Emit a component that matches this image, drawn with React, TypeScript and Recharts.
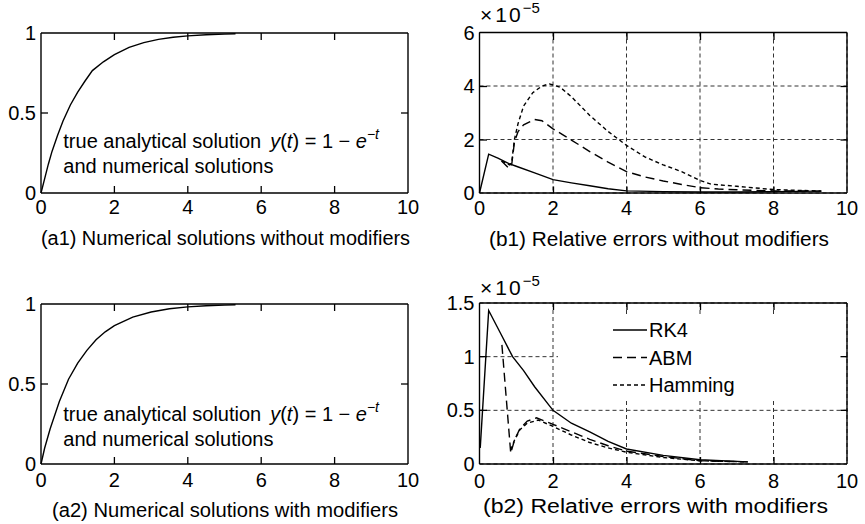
import React from 'react';
import { LineChart, Line, XAxis, YAxis, CartesianGrid, Legend, Label, ReferenceLine } from 'recharts';

const FONT = '"Liberation Sans", Arial, Helvetica, sans-serif';

// shared x ticks (t)
const timeTicks = [0, 2, 4, 6, 8, 10];

// (a1) numerical solution without modifiers
const a1T = [0, 0.1, 0.2, 0.3, 0.45, 0.6, 0.8, 1.0, 1.2, 1.4, 1.7, 2.0, 2.4, 2.8, 3.2, 3.6, 4.0, 4.5, 5.0, 5.3];
const a1Y = [0, 0.09, 0.18, 0.26, 0.36, 0.45, 0.55, 0.63, 0.7, 0.765, 0.82, 0.865, 0.91, 0.94, 0.96, 0.973, 0.982, 0.989, 0.993, 0.995];

// (a2) numerical solution with modifiers
const a2T = [0, 0.1, 0.25, 0.5, 0.75, 1.0, 1.25, 1.5, 1.75, 2.0, 2.5, 3.0, 3.5, 4.0, 4.5, 5.0, 5.3];
const a2Y = [0, 0.1, 0.22, 0.39, 0.53, 0.63, 0.71, 0.777, 0.826, 0.865, 0.918, 0.95, 0.97, 0.982, 0.989, 0.993, 0.995];

const aTicks = [0, 0.5, 1];

// (b1) relative errors without modifiers (x 1e-5)
const b1Ticks = [0, 2, 4, 6];
const rk4T1 = [0, 0.25, 0.5, 0.8, 1.0, 1.5, 2.0, 2.5, 3.0, 3.5, 4.0, 5.0, 6.0, 7.0, 8.0, 9.3];
const rk4Y1 = [0, 1.45, 1.3, 1.1, 1.0, 0.75, 0.5, 0.38, 0.27, 0.16, 0.08, 0.05, 0.04, 0.04, 0.05, 0.07];
const abmT1 = [0.6, 0.8, 0.88, 0.95, 1.05, 1.2, 1.5, 1.7, 2.0, 2.5, 3.0, 3.5, 4.0, 4.5, 5.0, 5.5, 6.0, 6.5, 7.0, 8.0, 9.3];
const abmY1 = [1.2, 0.92, 1.1, 1.9, 2.3, 2.55, 2.75, 2.7, 2.4, 1.98, 1.55, 1.15, 0.8, 0.6, 0.45, 0.32, 0.2, 0.15, 0.12, 0.08, 0.07];
const hamT1 = [0.6, 0.82, 0.88, 0.95, 1.05, 1.2, 1.45, 1.7, 1.9, 2.2, 2.5, 3.0, 3.5, 4.0, 4.5, 5.0, 5.5, 6.0, 6.3, 7.0, 8.0, 9.3];
const hamY1 = [1.2, 1.05, 1.2, 2.0, 2.6, 3.25, 3.75, 4.0, 4.08, 3.95, 3.6, 2.9, 2.3, 1.78, 1.35, 1.05, 0.8, 0.47, 0.33, 0.25, 0.13, 0.07];

// (b2) relative errors with modifiers (x 1e-5)
const b2Ticks = [0, 0.5, 1, 1.5];
const rk4T2 = [0.02, 0.25, 0.6, 0.9, 1.2, 1.5, 2.0, 2.5, 3.0, 3.5, 4.0, 5.0, 6.0, 7.3];
const rk4Y2 = [0.15, 1.43, 1.2, 1.0, 0.87, 0.72, 0.5, 0.38, 0.3, 0.21, 0.14, 0.08, 0.04, 0.02];
const abmT2 = [0.61, 0.85, 0.95, 1.1, 1.3, 1.55, 2.0, 2.5, 3.0, 3.5, 4.0, 5.0, 6.0, 7.3];
const abmY2 = [1.11, 0.1, 0.22, 0.33, 0.4, 0.43, 0.37, 0.3, 0.23, 0.17, 0.12, 0.07, 0.03, 0.02];
const hamT2 = [0.85, 0.95, 1.1, 1.3, 1.6, 2.0, 2.5, 3.0, 3.5, 4.0, 5.0, 6.0, 7.3];
const hamY2 = [0.13, 0.22, 0.32, 0.38, 0.41, 0.35, 0.27, 0.2, 0.15, 0.11, 0.06, 0.03, 0.02];

const methodNames = ['RK4', 'ABM', 'Hamming'];
const methodDash: Record<string, string | undefined> = { RK4: undefined, ABM: '9 5', Hamming: '4 3' };

const rows = (t: number[], y: number[]) => t.map((v, i) => ({ t: v, y: y[i] }));

type Series = { name: string; data: { t: number; y: number }[]; dash?: string };

const INK = '#000';
const LW = 1.4;
const TICK_LEN = 7;

function makeBottomTick(dy: number) {
  return (props: any) => {
    const { x, y, payload } = props;
    return (
      <text x={x} y={y + dy} textAnchor="middle" dominantBaseline="central" fontSize={20} fontFamily={FONT} fill={INK}>
        {payload.value}
      </text>
    );
  };
}
const LeftTick = (props: any) => {
  const { x, y, payload } = props;
  return (
    <text x={x - 5} y={y} textAnchor="end" dominantBaseline="central" fontSize={20} fontFamily={FONT} fill={INK}>
      {payload.value}
    </text>
  );
};

// Inward tick marks of the box (matlab style), laid over the plot rectangle.
function TickMarks({ left, top, width, height, xTicks, yTicks }: { left: number; top: number; width: number; height: number; xTicks: number[]; yTicks: number[] }) {
  const xMax = xTicks[xTicks.length - 1];
  const yMax = yTicks[yTicks.length - 1];
  const xs = xTicks.slice(1, -1).map((v) => (v / xMax) * width);
  const ys = yTicks.slice(1, -1).map((v) => height - (v / yMax) * height);
  return (
    <svg
      width={width}
      height={height}
      style={{ position: 'absolute', left, top, overflow: 'visible', pointerEvents: 'none' }}
    >
      {xs.map((x, i) => (
        <g key={`x${i}`}>
          <line x1={x} x2={x} y1={height} y2={height - TICK_LEN} stroke={INK} strokeWidth={1.3} />
          <line x1={x} x2={x} y1={0} y2={TICK_LEN} stroke={INK} strokeWidth={1.3} />
        </g>
      ))}
      {ys.map((y, i) => (
        <g key={`y${i}`}>
          <line x1={0} x2={TICK_LEN} y1={y} y2={y} stroke={INK} strokeWidth={1.3} />
          <line x1={width} x2={width - TICK_LEN} y1={y} y2={y} stroke={INK} strokeWidth={1.3} />
        </g>
      ))}
    </svg>
  );
}

type PanelProps = {
  ox: number; oy: number; w: number; h: number;
  l: number; r: number; t: number; b: number;
  yTicks: number[];
  series: Series[];
  grid?: boolean;
  caption: string; capX0: number; capX1: number; capY: number;
  xLabelDy: number;
  legend?: { x: number; y: number; w: number; h: number };
  children?: React.ReactNode;
};

function Panel(p: PanelProps) {
  const { ox, oy, w, h, l, r, t, b, yTicks, series, grid, caption, capX0, capX1, capY, xLabelDy, legend } = p;
  const yMax = yTicks[yTicks.length - 1];
  const xMax = timeTicks[timeTicks.length - 1];
  const axisLine = { stroke: INK, strokeWidth: LW };
  const renderLegend = (lp: any) => {
    const payload = ((lp && lp.payload) || []).slice();
    payload.sort((a: any, c: any) => methodNames.indexOf(a.value) - methodNames.indexOf(c.value));
    return (
      <svg width={legend!.w} height={legend!.h} style={{ display: 'block' }}>
        {payload.map((entry: any, i: number) => {
          const cy = 16 + i * 27.5;
          return (
            <g key={entry.value}>
              <line x1={55} x2={89} y1={cy} y2={cy} stroke={INK} strokeWidth={LW} strokeDasharray={methodDash[entry.value]} />
              <text x={91} y={cy} dominantBaseline="central" fontSize={20} fontFamily={FONT} fill={INK}>
                {entry.value}
              </text>
            </g>
          );
        })}
      </svg>
    );
  };
  return (
    <div style={{ position: 'absolute', left: ox, top: oy, width: w, height: h }}>
      <LineChart
        width={w}
        height={h}
        margin={{ top: t - oy, left: 0, right: ox + w - r, bottom: oy + h - b - 30 }}
      >
        {grid && <CartesianGrid stroke="#333" strokeDasharray="4 3" strokeWidth={1} />}
        <XAxis
          type="number"
          dataKey="t"
          domain={[0, xMax]}
          ticks={timeTicks}
          interval={0}
          height={30}
          tickSize={0}
          tickMargin={0}
          tickLine={false}
          axisLine={axisLine}
          tick={makeBottomTick(xLabelDy)}
        >
          <Label
            content={() => (
              <text
                x={capX0 - ox}
                y={capY - oy}
                dominantBaseline="central"
                fontSize={20}
                fontFamily={FONT}
                fill={INK}
                textLength={capX1 - capX0}
                lengthAdjust="spacingAndGlyphs"
              >
                {caption}
              </text>
            )}
          />
        </XAxis>
        <YAxis
          type="number"
          domain={[0, yMax]}
          ticks={yTicks}
          interval={0}
          width={l - ox}
          tickSize={0}
          tickMargin={0}
          tickLine={false}
          axisLine={axisLine}
          tick={LeftTick}
        />
        {/* frame: top and right edges */}
        <ReferenceLine y={yMax} stroke={INK} strokeWidth={LW} ifOverflow="visible" />
        <ReferenceLine x={xMax} stroke={INK} strokeWidth={LW} ifOverflow="visible" />
        {series.map((s) => (
          <Line
            key={s.name}
            name={s.name}
            data={s.data}
            dataKey="y"
            type="linear"
            stroke={INK}
            strokeWidth={LW}
            strokeDasharray={s.dash}
            dot={false}
            activeDot={false}
            isAnimationActive={false}
            legendType="line"
          />
        ))}
        {legend && (
          <Legend
            layout="vertical"
            align="center"
            verticalAlign="middle"
            wrapperStyle={{ left: legend.x - ox, top: legend.y - oy, width: legend.w, height: legend.h, background: '#fff' }}
            content={renderLegend}
          />
        )}
      </LineChart>
      <TickMarks left={l - ox} top={t - oy} width={r - l} height={b - t} xTicks={timeTicks} yTicks={yTicks} />
      {p.children}
    </div>
  );
}

const annoStyle: React.CSSProperties = {
  position: 'absolute',
  fontFamily: FONT,
  fontSize: 20,
  lineHeight: '22.4px',
  color: INK,
  whiteSpace: 'nowrap',
  pointerEvents: 'none',
};

function Annotation({ left, top }: { left: number; top: number }) {
  return (
    <div style={{ ...annoStyle, left, top }}>
      <div>
        true analytical solution<span style={{ display: 'inline-block', width: 9 }} />
        <i>y</i>(<i>t</i>) = 1 − <i>e</i>
        <span style={{ fontSize: 14, position: 'relative', top: -9 }}>
          −<i>t</i>
        </span>
      </div>
      <div>and numerical solutions</div>
    </div>
  );
}

function Scale({ left, top }: { left: number; top: number }) {
  return (
    <div style={{ ...annoStyle, fontSize: 21, lineHeight: '20px', left, top }}>
      ×<span style={{ display: 'inline-block', marginLeft: 3, letterSpacing: 2 }}>10</span>
      <span style={{ fontSize: 15, position: 'relative', top: -9 }}>−5</span>
    </div>
  );
}

export default function App() {
  const b1Series: Series[] = [
    { name: methodNames[0], data: rows(rk4T1, rk4Y1), dash: methodDash.RK4 },
    { name: methodNames[1], data: rows(abmT1, abmY1), dash: methodDash.ABM },
    { name: methodNames[2], data: rows(hamT1, hamY1), dash: methodDash.Hamming },
  ];
  const b2Series: Series[] = [
    { name: methodNames[0], data: rows(rk4T2, rk4Y2), dash: methodDash.RK4 },
    { name: methodNames[1], data: rows(abmT2, abmY2), dash: methodDash.ABM },
    { name: methodNames[2], data: rows(hamT2, hamY2), dash: methodDash.Hamming },
  ];
  return (
    <div style={{ position: 'absolute', left: 0, top: 0, width: 865, height: 524, background: '#fff', fontFamily: FONT }}>
      <Panel
        ox={0} oy={0} w={430} h={262}
        l={41} r={408} t={33} b={193}
        yTicks={aTicks}
        series={[{ name: 'y', data: rows(a1T, a1Y) }]}
        caption="(a1) Numerical solutions without modifiers"
        capX0={41} capX1={410} capY={238}
        xLabelDy={14}
      >
        <Annotation left={63.3} top={130.2} />
      </Panel>
      <Panel
        ox={430} oy={0} w={435} h={262}
        l={479.5} r={847} t={32.5} b={193}
        yTicks={b1Ticks}
        series={b1Series}
        grid
        caption="(b1) Relative errors without modifiers"
        capX0={489} capX1={829} capY={239}
        xLabelDy={15}
      >
        <Scale left={50} top={5} />
      </Panel>
      <Panel
        ox={0} oy={262} w={430} h={262}
        l={41} r={408} t={304} b={464}
        yTicks={aTicks}
        series={[{ name: 'y', data: rows(a2T, a2Y) }]}
        caption="(a2) Numerical solutions with modifiers"
        capX0={52} capX1={398} capY={509.5}
        xLabelDy={16}
      >
        <Annotation left={63.3} top={141.2} />
      </Panel>
      <Panel
        ox={430} oy={262} w={435} h={262}
        l={479.5} r={847} t={303} b={464}
        yTicks={b2Ticks}
        series={b2Series}
        grid
        caption="(b2) Relative errors with modifiers"
        capX0={483} capX1={828} capY={506}
        xLabelDy={17}
        legend={{ x: 558, y: 314, w: 287, h: 86 }}
      >
        <Scale left={50} top={16} />
      </Panel>
    </div>
  );
}
